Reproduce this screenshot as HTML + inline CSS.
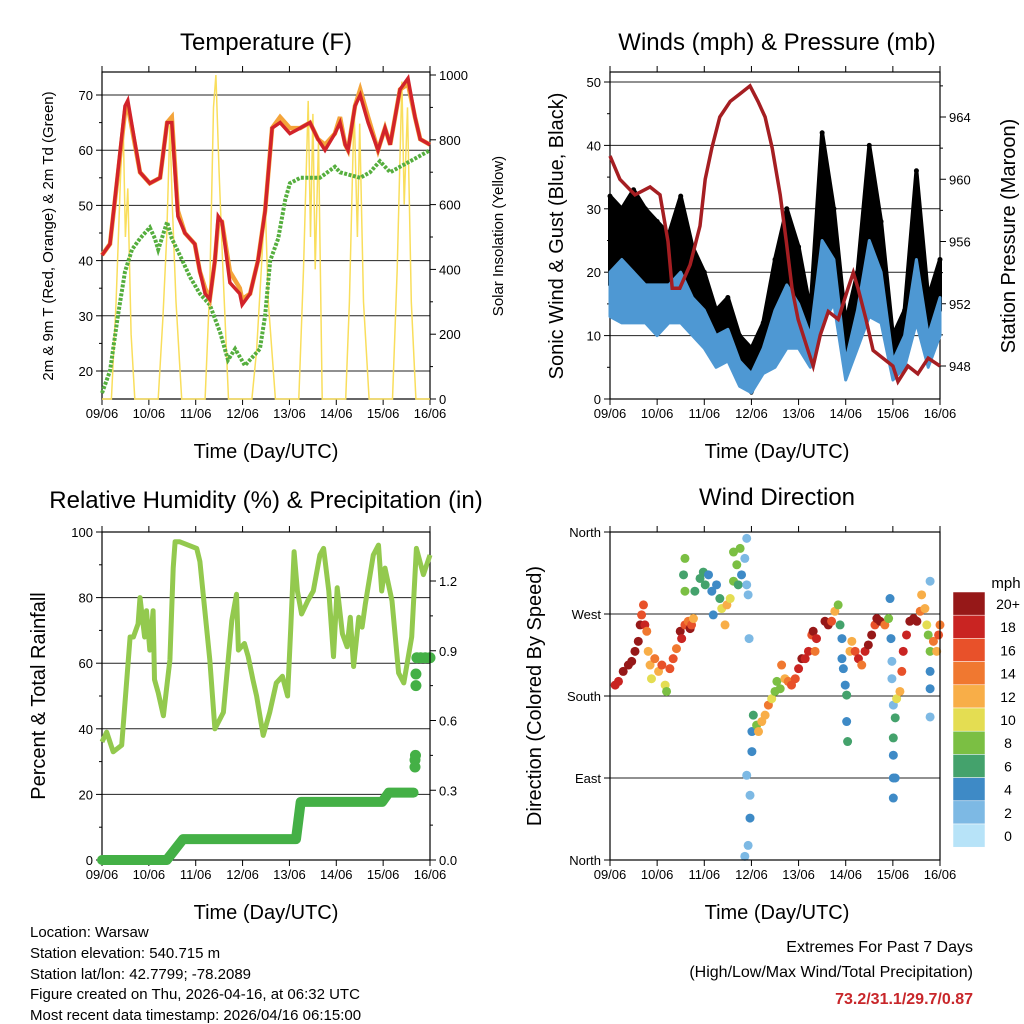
<!DOCTYPE html>
<html><head><meta charset="utf-8">
<style>
html,body{margin:0;padding:0;background:#fff;}
svg{display:block;font-family:"Liberation Sans",sans-serif;}
</style></head>
<body>
<svg id="c" width="1024" height="1024" viewBox="0 0 1024 1024">
<g id="static" fill="#000">
<text x="266" y="50" font-size="24" text-anchor="middle">Temperature (F)</text>
<text x="777" y="50" font-size="24" text-anchor="middle">Winds (mph) &amp; Pressure (mb)</text>
<text x="266" y="508" font-size="24" text-anchor="middle">Relative Humidity (%) &amp; Precipitation (in)</text>
<text x="777" y="505" font-size="24" text-anchor="middle">Wind Direction</text>
<text x="266" y="458" font-size="20" text-anchor="middle">Time (Day/UTC)</text>
<text x="777" y="458" font-size="20" text-anchor="middle">Time (Day/UTC)</text>
<text x="266" y="919" font-size="20" text-anchor="middle">Time (Day/UTC)</text>
<text x="777" y="919" font-size="20" text-anchor="middle">Time (Day/UTC)</text>
<text transform="translate(53,236) rotate(-90)" font-size="15" text-anchor="middle">2m &amp; 9m T (Red, Orange) &amp; 2m Td (Green)</text>
<text transform="translate(503,236) rotate(-90)" font-size="15" text-anchor="middle">Solar Insolation (Yellow)</text>
<text transform="translate(563,236) rotate(-90)" font-size="20" text-anchor="middle">Sonic Wind &amp; Gust (Blue, Black)</text>
<text transform="translate(1015,236) rotate(-90)" font-size="20" text-anchor="middle">Station Pressure (Maroon)</text>
<text transform="translate(45,696) rotate(-90)" font-size="20" text-anchor="middle">Percent &amp; Total Rainfall</text>
<text transform="translate(541,696) rotate(-90)" font-size="20" text-anchor="middle">Direction (Colored By Speed)</text>
<g font-size="15">
<text x="30" y="937">Location: Warsaw</text>
<text x="30" y="958">Station elevation: 540.715 m</text>
<text x="30" y="979">Station lat/lon: 42.7799; -78.2089</text>
<text x="30" y="999">Figure created on Thu, 2026-04-16, at 06:32 UTC</text>
<text x="30" y="1020">Most recent data timestamp: 2026/04/16 06:15:00</text>
</g>
<g font-size="16" text-anchor="end">
<text x="973" y="952">Extremes For Past 7 Days</text>
<text x="973" y="977">(High/Low/Max Wind/Total Precipitation)</text>
<text x="973" y="1004" font-weight="bold" fill="#C8262A">73.2/31.1/29.7/0.87</text>
</g>
<text x="1006" y="588" font-size="15" text-anchor="middle">mph</text>
</g>
</svg>
<script>
// ---------- data ----------
const dayLabels = ["09/06","10/06","11/06","12/06","13/06","14/06","15/06","16/06"];
const tempTimes = [0,0.17,0.49,0.55,0.81,1.02,1.24,1.39,1.49,1.62,1.77,1.98,2.09,2.2,2.3,2.41,2.48,2.56,2.73,2.94,2.99,3.16,3.33,3.48,3.54,3.63,3.8,4.01,4.23,4.44,4.61,4.76,4.97,5.08,5.19,5.25,5.4,5.51,5.68,5.89,6.04,6.15,6.36,6.53,6.68,6.79,7];
const temp2m = [41,43,68,69,56,54,55,65,65,48,45,43,38,34,33,40,48,47,36,34,32,34,40,49,55,64,65,63,64,65,62,60,63,65,61,60,68,70,65,60,64,61,71,73,66,62,61];
const temp9m = [41,43,67,68,56,54,55,65,66,49,45,43,38,35,33,40,47,47,38,35,33,34,40,49,55,64,66,64,64,65,62,61,63,66,61,60,68,71,66,60,64,61,71,72,66,62,61];
const dewTimes = [0,0.17,0.34,0.49,0.64,0.81,1.02,1.13,1.2,1.39,1.49,1.66,1.88,2.09,2.3,2.52,2.69,2.84,3.05,3.37,3.48,3.59,3.76,3.91,4.01,4.23,4.65,4.97,5.08,5.51,5.72,5.93,6.15,6.36,6.79,7];
const dewPoint = [16,20,30,38,42,44,46,44,42,47,44,41,37,34,32,27,22,24,21,24,30,40,44,51,54,55,55,57,56,55,56,58,56,57,59,60];
const solarTimes = [0,0.2,0.3,0.4,0.45,0.5,0.55,0.62,0.7,1.2,1.3,1.38,1.45,1.5,1.58,1.7,2.2,2.3,2.38,2.43,2.5,2.58,2.7,3.2,3.3,3.4,3.48,3.55,3.7,4.2,4.3,4.4,4.45,4.5,4.55,4.62,4.7,5.2,5.28,5.38,5.45,5.5,5.58,5.7,6.2,6.3,6.4,6.45,6.52,6.6,6.7,7];
const solarValues = [0,0,300,700,860,500,650,200,0,0,250,500,845,600,300,0,0,350,900,1000,700,400,0,0,150,400,615,300,0,0,400,920,500,880,400,800,0,0,300,900,500,850,300,0,0,400,980,600,900,300,0,0];
const windTimes = [0,0.25,0.5,0.75,1,1.25,1.5,1.75,2,2.25,2.5,2.75,3,3.25,3.5,3.75,4,4.25,4.5,4.75,5,5.25,5.5,5.75,6,6.25,6.5,6.75,7];
const windLow = [13,12,12,12,10,12,12,10,8,5,6,2,1,4,5,8,8,5,12,15,3,8,13,12,3,5,12,5,10];
const windHigh = [20,22,20,18,18,18,20,16,14,10,11,6,4,8,14,18,15,10,25,22,6,14,25,20,6,10,22,10,16];
const gustLow = [18,20,18,18,16,18,16,14,10,7,10,4,1,6,9,14,12,7,22,20,6,12,20,16,4,8,18,8,14];
const gustHigh = [32,30,33,30,28,26,32,24,20,14,16,10,8,12,22,30,24,14,42,30,12,20,40,28,10,14,36,16,22];
const pressTimes = [0,0.21,0.53,0.85,1.06,1.23,1.32,1.48,1.7,1.91,2.02,2.16,2.33,2.55,2.76,2.97,3.14,3.29,3.44,3.61,3.74,3.86,3.99,4.2,4.31,4.46,4.63,4.84,5.05,5.16,5.26,5.43,5.58,5.79,6.0,6.11,6.32,6.53,6.75,7];
const pressure = [961.5,960,959,959.5,959,956,953,953,954.5,957,960,962,964,965,965.5,966,965,964,962,959,956,953,951,949,948,950,951.5,951,953,954,953,951,949,948.5,948,947,948,947.5,948.5,948];
const rhTimes = [0,0.1,0.24,0.42,0.6,0.67,0.77,0.81,0.91,0.95,1.02,1.09,1.12,1.2,1.31,1.45,1.52,1.56,1.66,2.02,2.09,2.3,2.41,2.59,2.77,2.87,2.91,3.04,3.12,3.22,3.3,3.44,3.58,3.72,3.85,3.96,4.03,4.1,4.17,4.26,4.39,4.51,4.65,4.73,4.84,4.94,5.02,5.13,5.23,5.3,5.37,5.48,5.55,5.62,5.79,5.9,5.97,6.04,6.19,6.33,6.44,6.61,6.71,6.86,7];
const rhValues = [36,39,33,35,68,68,72,80,68,76,64,76,55,51,44,61,89,97,97,95,91,61,40,45,73,81,64,66,62,55,50,38,45,54,56,50,71,94,82,75,79,82,93,95,82,62,83,69,65,74,59,74,71,78,93,96,82,89,79,57,54,68,95,87,93];
const precipTimes = [0,1.38,1.73,4.14,4.24,5.98,6.12,6.65];
const precipValues = [0,0,0.09,0.09,0.25,0.25,0.29,0.29];
const precipLateTimes = [6.68,6.68,6.69,6.7,6.7,6.72,6.8,6.9,7];
const precipLateValues = [0.40,0.43,0.45,0.75,0.80,0.87,0.87,0.87,0.87];
// wind direction observations: [day, degrees, speed mph]
const windObs = [
[0.11,192,18],[0.18,196,18],[0.28,207,20],[0.39,214,20],[0.46,218,20],[0.53,229,20],[0.60,240,20],[0.64,258,20],[0.67,269,16],[0.71,280,16],
[0.74,258,18],[0.78,251,14],[0.81,229,12],[0.85,214,12],[0.88,199,10],[0.95,221,14],[1.03,207,12],[1.10,214,16],[1.17,192,10],[1.20,185,8],
[1.27,210,16],[1.34,221,16],[1.41,232,14],[1.49,251,20],[1.52,243,18],[1.59,258,16],[1.66,262,14],[1.70,254,20],[1.73,258,16],[1.77,265,12],
[1.56,313,6],[1.59,331,8],[1.59,295,8],[1.80,295,6],[1.91,309,6],[1.98,316,6],[2.02,302,6],[2.09,313,4],[2.16,295,4],[2.19,269,4],
[2.26,302,4],[2.33,287,6],[2.37,276,10],[2.44,258,12],[2.48,280,12],[2.55,287,10],[2.62,306,8],[2.62,338,8],[2.69,324,8],[2.72,302,6],
[2.76,342,8],[2.79,313,4],[2.86,331,2],[2.90,302,2],[2.93,291,2],[2.90,353,2],[2.95,243,2],
[2.90,93,2],[2.97,71,2],[2.97,46,4],[2.93,16,2],[2.86,4,2],[3.01,119,4],[3.01,141,4],[3.04,159,6],[3.11,148,8],[3.15,141,12],
[3.22,152,12],[3.29,159,12],[3.36,170,14],[3.43,177,10],[3.50,185,8],[3.54,196,8],[3.61,188,8],[3.64,214,14],[3.71,199,12],[3.78,196,14],
[3.85,192,16],[3.93,199,16],[4.00,210,18],[4.07,221,20],[4.14,221,18],[4.21,229,18],[4.28,247,16],[4.31,251,20],[4.38,243,18],[4.35,229,14],
[4.56,262,20],[4.63,258,20],[4.70,262,16],[4.77,273,12],[4.84,280,8],[4.88,258,6],[4.92,243,4],[4.92,221,4],[4.95,210,4],[4.99,192,4],
[5.02,181,6],[5.02,152,4],[5.04,130,6],[5.09,229,12],[5.13,240,12],[5.20,229,16],[5.27,221,18],[5.34,214,14],[5.41,229,18],[5.48,236,20],
[5.55,247,20],[5.62,258,16],[5.66,265,20],[5.73,262,20],[5.83,258,14],[5.91,265,8],[5.94,287,4],[5.96,243,4],[5.98,218,2],[5.98,199,2],
[6.01,170,2],[6.05,156,6],[6.01,134,6],[6.01,115,4],[6.01,90,4],[6.01,68,4],[6.05,90,4],[6.08,177,10],[6.15,185,12],[6.19,207,16],
[6.22,229,18],[6.29,247,18],[6.36,262,20],[6.44,265,20],[6.51,262,20],[6.58,273,14],[6.61,291,12],[6.68,276,12],[6.72,258,10],[6.75,247,8],
[6.79,229,8],[6.79,306,2],[6.79,207,4],[6.79,188,4],[6.79,157,2],[6.86,240,14],[6.93,229,12],[6.97,247,16],[7.0,258,14]
];
const legendLabels = ["20+","18","16","14","12","10","8","6","4","2","0"];
const legendColors = ["#961818","#C92422","#E8512A","#F07830","#F8AE48","#E4DD52","#7BBF43","#44A26C","#3E8AC6","#7DB9E4","#B7E3F8"];

// ---------- helpers ----------
const NS="http://www.w3.org/2000/svg";
const svg=document.getElementById('c');
function mk(tag,attrs,parent){const e=document.createElementNS(NS,tag);for(const k in attrs)e.setAttribute(k,attrs[k]);(parent||svg).appendChild(e);return e;}
function lin(d0,d1,r0,r1){return v=>r0+(v-d0)*(r1-r0)/(d1-d0);}
function pathD(xs,ys,fx,fy){return xs.map((t,i)=>(i?'L':'M')+fx(t).toFixed(1)+','+fy(ys[i]).toFixed(1)).join('');}
function bandD(xs,lo,hi,fx,fy){let d=pathD(xs,hi,fx,fy);for(let i=xs.length-1;i>=0;i--)d+='L'+fx(xs[i]).toFixed(1)+','+fy(lo[i]).toFixed(1);return d+'Z';}

function frame(x0,x1,y0,y1,name){
  const g=mk('g',{});
  
  
  const fx=lin(0,7,x0,x1);
  dayLabels.forEach((lab,i)=>{
    const x=fx(i);
    mk('line',{x1:x,x2:x,y1:y1,y2:y1+6,stroke:'#000','stroke-width':1},g);
    mk('line',{x1:x,x2:x,y1:y0,y2:y0-6,stroke:'#000','stroke-width':1},g);
    const t=mk('text',{x:x,y:y1+19,'font-size':13,'text-anchor':'middle'},g);
    t.textContent=lab;
    
    
  });
  return {g,fx};
}
function yticks(g,vals,fy,x,side,labels,grid,x0,x1,minor){
  vals.forEach((v,i)=>{
    const y=fy(v);
    mk('line',{x1:x,x2:x+(side<0?-6:6),y1:y,y2:y,stroke:'#000'},g);
    if(grid) mk('line',{x1:x0,x2:x1,y1:y,y2:y,stroke:'#222','stroke-width':1},g);
    const t=mk('text',{x:x+(side<0?-9:9),y:y+5,'font-size':13,'text-anchor':side<0?'end':'start'},g);
    t.textContent=labels?labels[i]:v;
    
    
  });
  if(minor) minor.forEach(v=>mk('line',{x1:x,x2:x+(side<0?-3:3),y1:fy(v),y2:fy(v),stroke:'#000'},g));
}
function box(g,x0,x1,y0,y1){mk('rect',{x:x0,y:y0,width:x1-x0,height:y1-y0,fill:'none',stroke:'#000','stroke-width':1.2},g);}

// ---------- temperature panel ----------
(function(){
  const X0=102,X1=430,Y0=72,Y1=399;
  const {g,fx}=frame(X0,X1,Y0,Y1,'temperature');
  const fy=lin(20,70,371,95), fs=lin(0,1000,399,75);
  yticks(g,[20,30,40,50,60,70],fy,X0,-1,null,true,X0,X1,[25,35,45,55,65]);
  yticks(g,[0,200,400,600,800,1000],fs,X1,1,null,false,0,0,[100,300,500,700,900]);
  const s=mk('path',{d:pathD(solarTimes,solarValues,fx,fs),fill:'none',stroke:'#F9DE5C','stroke-width':1.5});
  
  
  const d=mk('path',{d:pathD(dewTimes,dewPoint,fx,fy),fill:'none',stroke:'#55AE3E','stroke-width':4,'stroke-dasharray':'3 1.5'});
  
  
  const o=mk('path',{d:pathD(tempTimes,temp9m,fx,fy),fill:'none',stroke:'#F4A43A','stroke-width':4.5});
  
  
  const r=mk('path',{d:pathD(tempTimes,temp2m,fx,fy),fill:'none',stroke:'#D2232A','stroke-width':3.5});
  
  
  box(g,X0,X1,Y0,Y1);
})();

// ---------- winds panel ----------
(function(){
  const X0=610,X1=940,Y0=72,Y1=399;
  const {g,fx}=frame(X0,X1,Y0,Y1,'winds');
  const fy=lin(0,50,399,82), fp=lin(948,964,366,117);
  yticks(g,[0,10,20,30,40,50],fy,X0,-1,null,true,X0,X1,[5,15,25,35,45]);
  yticks(g,[948,952,956,960,964],fp,X1,1,null,false,0,0,[950,954,958,962,966]);
  const gb=mk('path',{d:bandD(windTimes,gustLow,gustHigh,fx,fy),fill:'#000',stroke:'#000','stroke-width':4,'stroke-linejoin':'round'});
  
  
  windTimes.forEach((t,i)=>{
    const c=mk('circle',{cx:fx(t),cy:fy(gustHigh[i]),r:2.5,fill:'#000'},g);
    
    
  });
  const wb=mk('path',{d:bandD(windTimes,windLow,windHigh,fx,fy),fill:'#4E98D3',stroke:'#4E98D3','stroke-width':3,'stroke-linejoin':'round'});
  
  
  const p=mk('path',{d:pathD(pressTimes,pressure,fx,fp),fill:'none',stroke:'#A51E22','stroke-width':3.5});
  
  
  box(g,X0,X1,Y0,Y1);
})();

// ---------- humidity panel ----------
(function(){
  const X0=102,X1=430,Y0=532,Y1=860;
  const {g,fx}=frame(X0,X1,Y0,Y1,'humidity');
  const fy=lin(0,100,860,532), fr=lin(0,1.2,860,581);
  yticks(g,[0,20,40,60,80,100],fy,X0,-1,null,false,0,0,[10,30,50,70,90]);
  [20,40,60,80].forEach(v=>mk('line',{x1:X0,x2:X1,y1:fy(v),y2:fy(v),stroke:'#222'},g));
  yticks(g,[0,0.3,0.6,0.9,1.2],fr,X1,1,["0.0","0.3","0.6","0.9","1.2"],false,0,0,[0.15,0.45,0.75,1.05]);
  const rh=mk('path',{d:pathD(rhTimes,rhValues,fx,fy),fill:'none',stroke:'#93C94E','stroke-width':5,'stroke-linejoin':'round'});
  
  
  const pr=mk('path',{d:pathD(precipTimes,precipValues,fx,fr),fill:'none',stroke:'#44B046','stroke-width':10,'stroke-linecap':'round','stroke-linejoin':'round'});
  
  
  precipLateTimes.forEach((t,i)=>{
    const c=mk('circle',{cx:fx(t),cy:fr(precipLateValues[i]),r:5.5,fill:'#44B046'},g);
    
    
  });
  box(g,X0,X1,Y0,Y1);
})();

// ---------- wind direction panel ----------
(function(){
  const X0=610,X1=940,Y0=532,Y1=860;
  const {g,fx}=frame(X0,X1,Y0,Y1,'wind-direction');
  const fy=lin(0,360,860,532);
  yticks(g,[0,90,180,270,360],fy,X0,-1,["North","East","South","West","North"],false,0,0,null);
  [90,180,270].forEach(v=>mk('line',{x1:X0,x2:X1,y1:fy(v),y2:fy(v),stroke:'#222'},g));
  const colorFor=s=>legendColors[10-Math.min(10,Math.round(s/2))];
  windObs.forEach(o=>{
    const c=mk('circle',{cx:fx(Math.min(7,o[0])),cy:fy(o[1]),r:4.5,fill:colorFor(o[2])},g);
    
    
  });
  box(g,X0,X1,Y0,Y1);
  const lg=mk('g',{});
  
  
  legendLabels.forEach((lab,i)=>{
    const y=592+i*23.2;
    mk('rect',{x:953,y:y,width:32,height:23.2,fill:legendColors[i],stroke:'#fff','stroke-width':0.5},lg);
    const t=mk('text',{x:1008,y:y+17,'font-size':14,'text-anchor':'middle'},lg);
    t.textContent=lab;
    
    
  });
})();
</script>
</body></html>
